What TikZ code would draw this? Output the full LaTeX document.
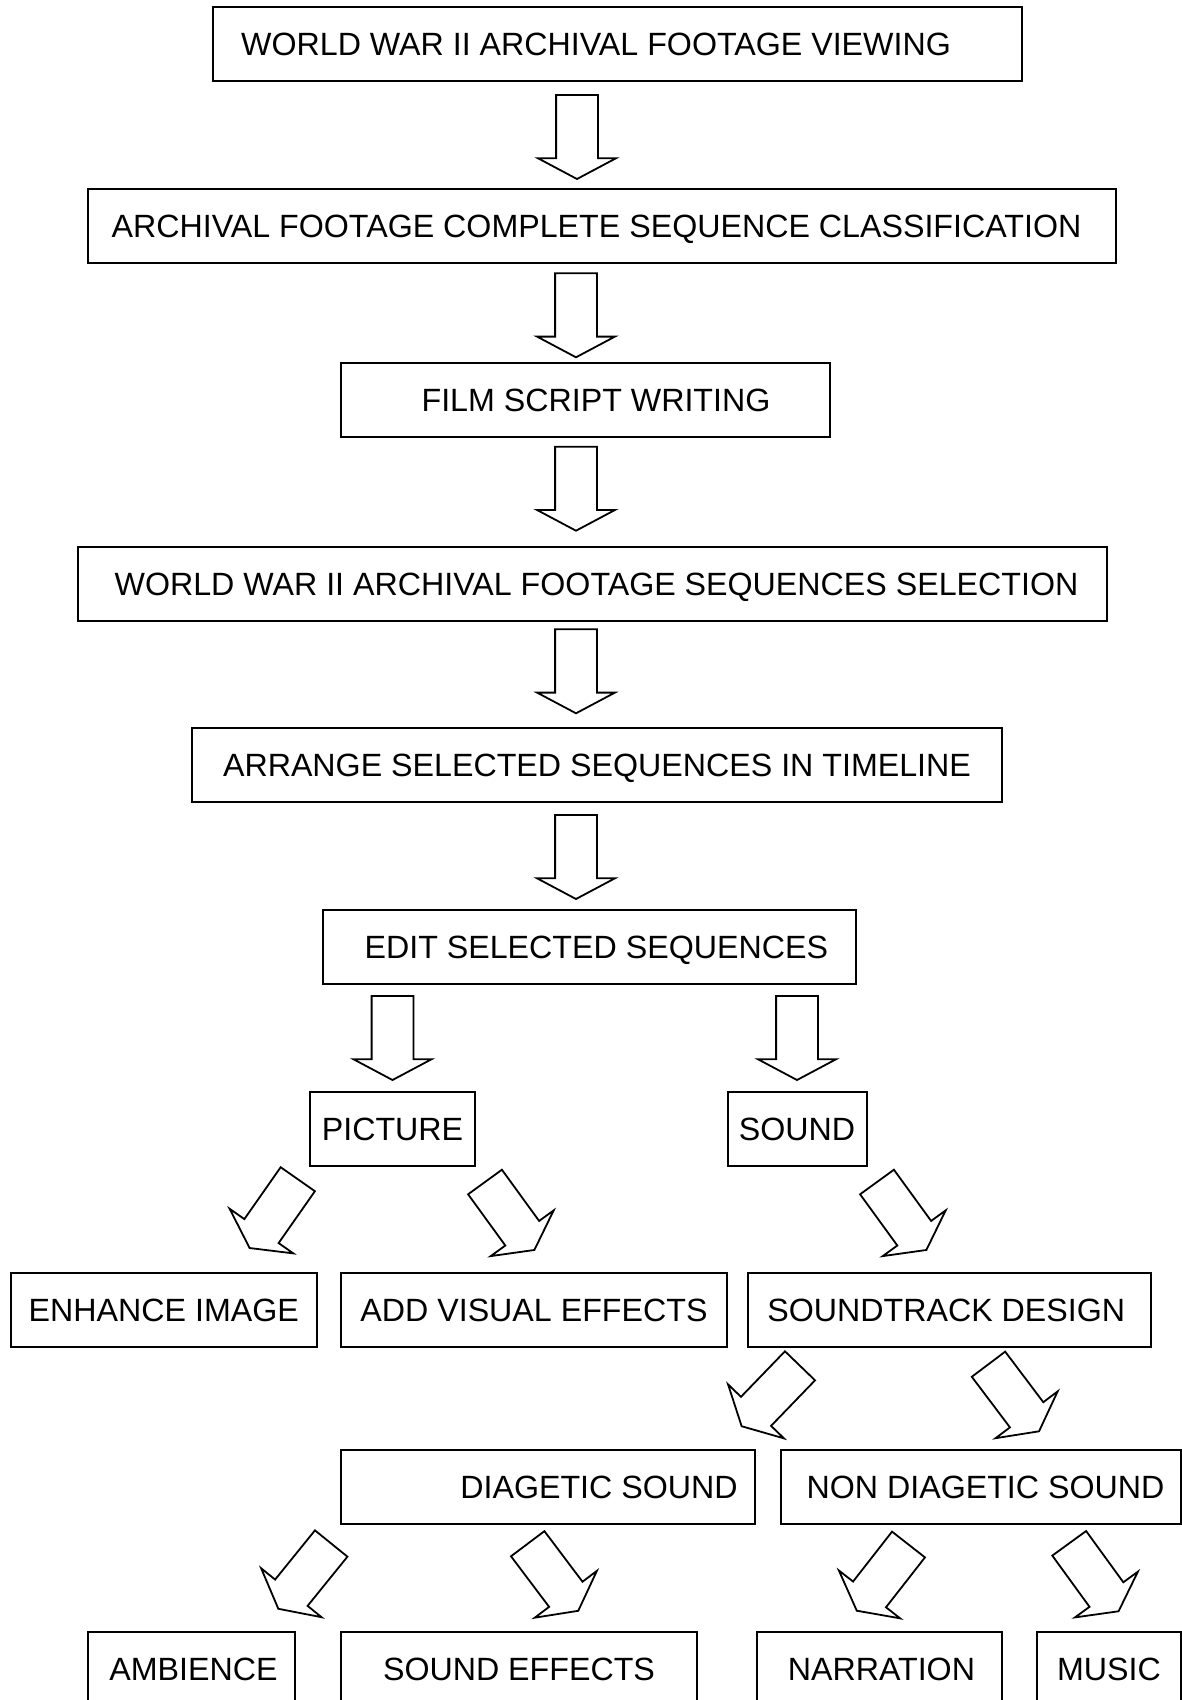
\documentclass[tikz,border=0pt]{standalone}
\usepackage{fontspec}
\setmainfont{Liberation Sans}
\usetikzlibrary{shapes.arrows}
\tikzset{
	stage/.style={draw,line width=2pt,minimum height=74pt,inner sep=0pt,text height=23pt,text depth=0pt,font=\fontsize{32.2}{38}\selectfont},
	bigarrow/.style={single arrow,draw,line width=1.8pt,minimum height=84pt,minimum width=76pt,single arrow head extend=18pt,single arrow tip angle=124,inner xsep=0pt,inner ysep=20pt,outer sep=0pt,anchor=tail}
}
\begin{document}
\begin{tikzpicture}[x=1pt,y=-1pt]
	\useasboundingbox (0,0) rectangle (1182,1700);
	\clip (0,0) rectangle (1182,1700);
	\node[stage,minimum width=809pt] (view) at (617.5,44) {WORLD WAR II ARCHIVAL FOOTAGE VIEWING\hspace*{43pt}};
	\node[stage,minimum width=1028pt] (classify) at (602,226) {ARCHIVAL FOOTAGE COMPLETE SEQUENCE CLASSIFICATION\hspace*{11pt}};
	\node[stage,minimum width=489pt] (script) at (585,400) {\hspace*{22pt}FILM SCRIPT WRITING};
	\node[stage,minimum width=1029pt] (select) at (592.5,583.7) {\hspace*{8pt}WORLD WAR II ARCHIVAL FOOTAGE SEQUENCES SELECTION};
	\node[stage,minimum width=810pt] (arrange) at (597,764.5) {ARRANGE SELECTED SEQUENCES IN TIMELINE};
	\node[stage,minimum width=532.6pt] (edit) at (589.3,947.3) {\hspace*{14pt}EDIT SELECTED SEQUENCES};
	\node[stage,minimum width=165pt] (picture) at (392.5,1129) {PICTURE};
	\node[stage,minimum width=139pt] (sound) at (797,1129) {SOUND};
	\node[stage,minimum width=306pt] (enhance) at (163.8,1309.5) {ENHANCE IMAGE};
	\node[stage,minimum width=386pt] (visual) at (534,1309.5) {ADD VISUAL EFFECTS};
	\node[stage,minimum width=402.5pt] (track) at (949.3,1309.5) {SOUNDTRACK DESIGN\hspace*{6pt}};
	\node[stage,minimum width=414.5pt] (diag) at (548,1486.5) {\hspace*{102pt}DIAGETIC SOUND};
	\node[stage,minimum width=400pt] (nondiag) at (981,1486.5) {\hspace*{9pt}NON DIAGETIC SOUND};
	\node[stage,minimum width=207pt] (amb) at (191.5,1669) {\hspace*{4pt}AMBIENCE};
	\node[stage,minimum width=356.3pt] (effects) at (519,1669) {SOUND EFFECTS};
	\node[stage,minimum width=245.8pt] (narr) at (879.4,1669) {\hspace*{4pt}NARRATION};
	\node[stage,minimum width=144pt] (music) at (1109,1669) {MUSIC};

	\node[bigarrow,rotate=-90] (a1) at (577,95) {};
	\node[bigarrow,rotate=-90] (a2) at (576,273.3) {};
	\node[bigarrow,rotate=-90] (a3) at (576,446.7) {};
	\node[bigarrow,rotate=-90] (a4) at (576,629.3) {};
	\node[bigarrow,rotate=-90] (a5) at (576,815) {};
	\node[bigarrow,rotate=-90] (a6) at (392.5,996) {};
	\node[bigarrow,rotate=-90] (a7) at (797,996) {};
	\node[bigarrow,rotate=-125] (a8) at (297.8,1179.2) {};
	\node[bigarrow,rotate=-54] (a9) at (485,1182) {};
	\node[bigarrow,rotate=-54] (a10) at (877,1182) {};
	\node[bigarrow,rotate=-134] (a11) at (800,1365.8) {};
	\node[bigarrow,rotate=-53] (a12) at (988.5,1364.2) {};
	\node[bigarrow,rotate=-129] (a13) at (331.2,1543.5) {};
	\node[bigarrow,rotate=-53] (a14) at (527.7,1543.7) {};
	\node[bigarrow,rotate=-128] (a15) at (908.5,1544.5) {};
	\node[bigarrow,rotate=-54] (a16) at (1069.2,1543.3) {};
\end{tikzpicture}
\end{document}
